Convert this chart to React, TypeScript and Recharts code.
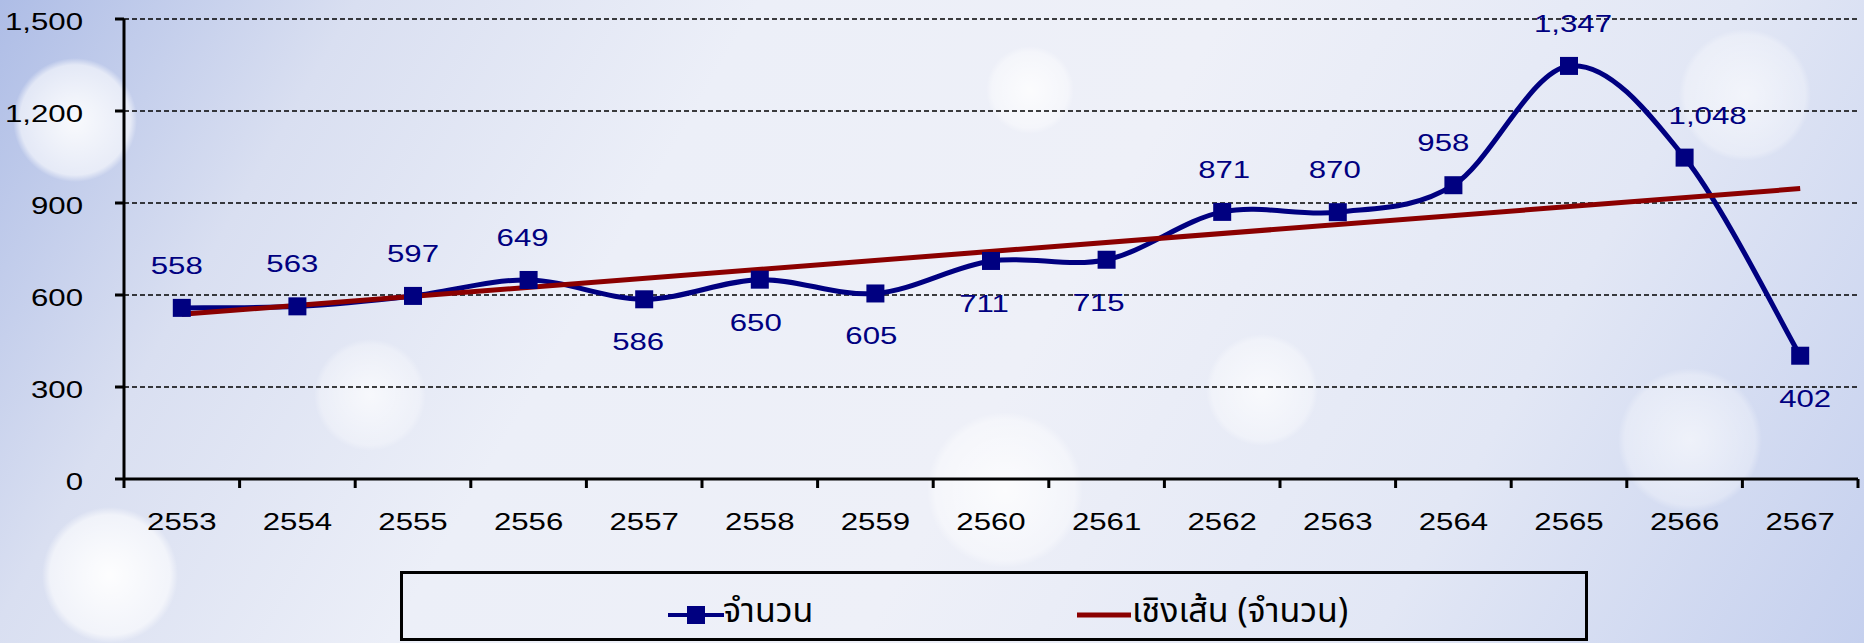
import React from 'react';
import { LineChart, Line, XAxis, YAxis, CartesianGrid, LabelList } from 'recharts';

const years = ['2553', '2554', '2555', '2556', '2557', '2558', '2559', '2560', '2561', '2562', '2563', '2564', '2565', '2566', '2567'];
const counts = [558, 563, 597, 649, 586, 650, 605, 711, 715, 871, 870, 958, 1347, 1048, 402];
// linear trend, read at the first and last year
const trendEnds = [537, 947];
const yTicks = [0, 300, 600, 900, 1200, 1500];

// where each value label sits relative to its point
const labelSide = ['up', 'up', 'up', 'up', 'down', 'down', 'down', 'down', 'down', 'up', 'up', 'up', 'up', 'up', 'down'];
const labelShift = [-5, -5, 0, -6, -6, -4, -4, -7, -8, 2, -3, -10, 4, 23, 5];

const W = 1864;
const H = 643;
const LEFT = 124;
const RIGHT = 6;
const BAND = (W - LEFT - RIGHT) / years.length;

const NAVY = '#000080';
const RED = '#8B0000';
const NUM_FONT = '"Liberation Sans", Arial, sans-serif';
const STRETCH = 1.3;

const data = years.map((year, i) => ({
    year,
    count: counts[i],
    trend: i === 0 ? trendEnds[0] : i === years.length - 1 ? trendEnds[1] : null,
}));

// Excel-like smoothed line (Catmull-Rom through the points)
const smoothCurve = (context: any) => {
    let pts: number[][] = [];
    return {
        areaStart() {},
        areaEnd() {},
        lineStart() { pts = []; },
        point(x: number, y: number) { pts.push([x, y]); },
        lineEnd() {
            if (!pts.length) return;
            context.moveTo(pts[0][0], pts[0][1]);
            for (let i = 0; i < pts.length - 1; i++) {
                const p0 = pts[i - 1] || pts[i];
                const p1 = pts[i];
                const p2 = pts[i + 1];
                const p3 = pts[i + 2] || p2;
                context.bezierCurveTo(
                    p1[0] + (p2[0] - p0[0]) / 6, p1[1] + (p2[1] - p0[1]) / 6,
                    p2[0] - (p3[0] - p1[0]) / 6, p2[1] - (p3[1] - p1[1]) / 6,
                    p2[0], p2[1]
                );
            }
        },
    };
};

function XTick(props: any) {
    const { x, y, payload, index } = props;
    const last = index === years.length - 1;
    return (
        <g>
            <line x1={x - BAND / 2} x2={x - BAND / 2} y1={y} y2={y + 9} stroke="#000" strokeWidth={3} />
            {last && <line x1={x + BAND / 2} x2={x + BAND / 2} y1={y} y2={y + 9} stroke="#000" strokeWidth={3} />}
            <text transform={`translate(${x},${y + 51}) scale(${STRETCH},1)`} textAnchor="middle"
                fontFamily={NUM_FONT} fontSize={24} fill="#000">{payload.value}</text>
        </g>
    );
}

function YTick(props: any) {
    const { x, y, payload } = props;
    return (
        <text transform={`translate(${x},${y + 11}) scale(${STRETCH},1)`} textAnchor="end"
            fontFamily={NUM_FONT} fontSize={24} fill="#000">
            {payload.value.toLocaleString('en-US')}
        </text>
    );
}

function SquareDot(props: any) {
    const { cx, cy, index } = props;
    if (cx == null || cy == null) return null;
    return <rect key={`d${index}`} x={cx - 9} y={cy - 9} width={18} height={18} fill={NAVY} />;
}

function ValueLabel(props: any) {
    const { x, y, value, index } = props;
    const up = labelSide[index] === 'up';
    const ty = up ? y - 34 : y + 51;
    return (
        <text transform={`translate(${x + labelShift[index]},${ty}) scale(${STRETCH},1)`} textAnchor="middle"
            fontFamily={NUM_FONT} fontSize={24} fill={NAVY}>
            {Number(value).toLocaleString('en-US')}
        </text>
    );
}

const background = [
    'radial-gradient(circle at 75px 120px, rgba(255,255,255,0.9) 0, rgba(255,255,255,0.6) 55px, rgba(255,255,255,0) 62px)',
    'radial-gradient(circle at 110px 575px, rgba(255,255,255,0.95) 0, rgba(255,255,255,0.6) 60px, rgba(255,255,255,0) 68px)',
    'radial-gradient(circle at 370px 395px, rgba(255,255,255,0.7) 0, rgba(255,255,255,0.3) 50px, rgba(255,255,255,0) 56px)',
    'radial-gradient(circle at 1030px 90px, rgba(255,255,255,0.8) 0, rgba(255,255,255,0.4) 38px, rgba(255,255,255,0) 44px)',
    'radial-gradient(circle at 1262px 390px, rgba(255,255,255,0.7) 0, rgba(255,255,255,0.35) 50px, rgba(255,255,255,0) 56px)',
    'radial-gradient(circle at 1005px 490px, rgba(255,255,255,0.8) 0, rgba(255,255,255,0.4) 70px, rgba(255,255,255,0) 78px)',
    'radial-gradient(circle at 1745px 95px, rgba(255,255,255,0.6) 0, rgba(255,255,255,0.3) 60px, rgba(255,255,255,0) 66px)',
    'radial-gradient(circle at 1690px 440px, rgba(255,255,255,0.6) 0, rgba(255,255,255,0.3) 65px, rgba(255,255,255,0) 72px)',
    'linear-gradient(120deg, #aebde6 0%, #d9dff1 16%, #eceff8 34%, #eef0f8 55%, #e2e7f5 78%, #c5d0ee 100%)',
].join(', ');

export default function App() {
    return (
        <div style={{ position: 'absolute', left: 0, top: 0, width: W, height: H, background, overflow: 'hidden' }}>
            <LineChart width={W} height={H} data={data} margin={{ top: 19, right: RIGHT, left: 0, bottom: 0 }}>
                <CartesianGrid vertical={false} stroke="#000" strokeWidth={1.4} strokeDasharray="5 3" />
                <XAxis dataKey="year" height={164} interval={0} tickLine={false} tickSize={0} tickMargin={0}
                    padding={{ left: BAND / 2, right: BAND / 2 }}
                    axisLine={{ stroke: '#000', strokeWidth: 3 }} tick={<XTick />} />
                <YAxis width={LEFT} domain={[0, 1500]} ticks={yTicks} interval={0} tickSize={9} tickMargin={32}
                    axisLine={{ stroke: '#000', strokeWidth: 3 }} tickLine={{ stroke: '#000', strokeWidth: 3 }}
                    tick={<YTick />} />
                <Line dataKey="count" type={smoothCurve as any} stroke={NAVY} strokeWidth={5}
                    dot={<SquareDot />} activeDot={false} isAnimationActive={false}>
                    <LabelList dataKey="count" content={<ValueLabel />} />
                </Line>
                <Line dataKey="trend" type="linear" connectNulls stroke={RED} strokeWidth={5}
                    dot={false} activeDot={false} isAnimationActive={false} />
            </LineChart>
            <div style={{
                position: 'absolute', left: 400, top: 571, width: 1188, height: 70,
                border: '3px solid #000', boxSizing: 'border-box',
                fontFamily: '"Noto Sans Thai", Tahoma, "Noto Sans", sans-serif', fontSize: 34, color: '#000',
            }}>
                <svg style={{ position: 'absolute', left: 263, top: 31 }} width={60} height={20}>
                    <line x1={2} x2={58} y1={10} y2={10} stroke={NAVY} strokeWidth={4} />
                    <rect x={21} y={1} width={18} height={18} fill={NAVY} />
                </svg>
                <span style={{ position: 'absolute', left: 320, top: 18, lineHeight: '40px', whiteSpace: 'nowrap' }}>จำนวน</span>
                <svg style={{ position: 'absolute', left: 672, top: 31 }} width={58} height={20}>
                    <line x1={2} x2={56} y1={10} y2={10} stroke={RED} strokeWidth={5} />
                </svg>
                <span style={{ position: 'absolute', left: 729, top: 18, lineHeight: '40px', whiteSpace: 'nowrap' }}>เชิงเส้น (จำนวน)</span>
            </div>
        </div>
    );
}
